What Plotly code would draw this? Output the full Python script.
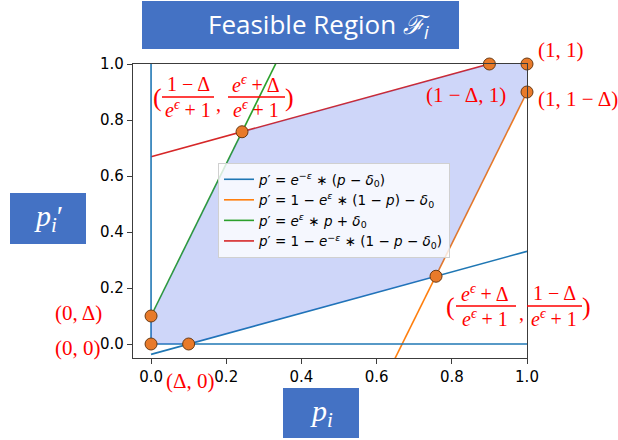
import plotly.graph_objects as go

# ---- data ----
blue_x = [0.0, 1.0]
blue_y = [-0.037, 0.331]
orange_x = [0.631, 1.0]
orange_y = [-0.10, 0.90]
green_x = [0.0, 0.35]
green_y = [0.10, 1.051]
red_x = [0.0, 1.0]
red_y = [0.669, 1.037]
bound_v_x = [0.0, 0.0]
bound_v_y = [0.0, 1.0]
bound_h_x = [0.0, 1.0]
bound_h_y = [0.0, 0.0]
region_x = [0.0, 0.0, 0.242, 0.9, 1.0, 1.0, 0.758, 0.1, 0.0]
region_y = [0.0, 0.1, 0.758, 1.0, 1.0, 0.9, 0.242, 0.0, 0.0]
pts_x = [0.0, 0.0, 0.1, 0.242, 0.9, 1.0, 1.0, 0.758]
pts_y = [0.0, 0.1, 0.0, 0.758, 1.0, 1.0, 0.9, 0.242]
tick_vals = [0.0, 0.2, 0.4, 0.6, 0.8, 1.0]
tick_text = ["0.0", "0.2", "0.4", "0.6", "0.8", "1.0"]

legend_names = [
    "<i>p</i>′ = <i>e</i><sup>−<i>ε</i></sup> ∗ (<i>p</i> − <i>δ</i><sub>0</sub>)",
    "<i>p</i>′ = 1 − <i>e</i><sup><i>ε</i></sup> ∗ (1 − <i>p</i>) − <i>δ</i><sub>0</sub>",
    "<i>p</i>′ = <i>e</i><sup><i>ε</i></sup> ∗ <i>p</i> + <i>δ</i><sub>0</sub>",
    "<i>p</i>′ = 1 − <i>e</i><sup>−<i>ε</i></sup> ∗ (1 − <i>p</i> − <i>δ</i><sub>0</sub>)",
]

W, H = 618, 440
L, R, T, B = 133, 527, 64, 358

def px(x):
    return (x - L) / (R - L)

def py(y):
    return (B - y) / (B - T)

fig = go.Figure()
C = ["#1f77b4", "#ff7f0e", "#2ca02c", "#d62728"]
for xs, ys, c, n in [(blue_x, blue_y, C[0], legend_names[0]),
                     (orange_x, orange_y, C[1], legend_names[1]),
                     (green_x, green_y, C[2], legend_names[2]),
                     (red_x, red_y, C[3], legend_names[3])]:
    fig.add_trace(go.Scatter(x=xs, y=ys, mode="lines", name=n,
                             line=dict(color=c, width=1.6)))
for xs, ys in [(bound_v_x, bound_v_y), (bound_h_x, bound_h_y)]:
    fig.add_trace(go.Scatter(x=xs, y=ys, mode="lines", showlegend=False,
                             line=dict(color=C[0], width=1.6)))
fig.add_trace(go.Scatter(x=region_x, y=region_y, mode="lines", fill="toself",
                         fillcolor="rgba(60,90,230,0.25)", line=dict(width=0),
                         showlegend=False, hoverinfo="skip"))
fig.add_trace(go.Scatter(x=pts_x, y=pts_y, mode="markers", showlegend=False,
                         marker=dict(size=12, color="#e87a2a",
                                     line=dict(color="#6b3a12", width=1)),
                         cliponaxis=False))

RED = "#ff0000"
SERIF = "Liberation Serif"
ann = []
shapes = []

def text(x, y, s, size=20, color=RED, fam=SERIF, xanchor="center"):
    ann.append(dict(x=px(x), y=py(y), xref="paper", yref="paper", text=s,
                    showarrow=False, xanchor=xanchor, yanchor="middle",
                    font=dict(size=size, color=color, family=fam)))

def frac(cx, x0, x1, ly, num, den):
    text(cx, ly - 13, num)
    text(cx, ly + 12, den)
    shapes.append(dict(type="line", xref="paper", yref="paper",
                       x0=px(x0), x1=px(x1), y0=py(ly), y1=py(ly),
                       line=dict(color=RED, width=1.5)))

EP1 = "<i>e</i><sup><i>ϵ</i></sup> + 1"
EPD = "<i>e</i><sup><i>ϵ</i></sup> + Δ"
OMD = "1 − Δ"

# top-left fraction label
text(157, 97, "(", size=26)
frac(188, 162, 214, 97, OMD, EP1)
text(218, 104, ",", size=20)
frac(256, 228, 285, 97, EPD, EP1)
text(289, 97, ")", size=26)

# bottom-right fraction label
text(450, 306, "(", size=26)
frac(485, 456, 516, 306, EPD, EP1)
text(521, 313, ",", size=20)
frac(554, 527, 582, 306, OMD, EP1)
text(586, 306, ")", size=26)

text(561, 50, "(1, 1)", size=21)
text(466, 95, "(1 − Δ, 1)", size=21)
text(578, 99, "(1, 1 − Δ)", size=21)
text(78, 313, "(0, Δ)", size=21)
text(78, 348, "(0, 0)", size=21)
text(190, 381, "(Δ, 0)", size=21)

BOX = "#4472C4"
for (x0, y0, x1, y1) in [(142, 1, 459, 49), (10, 193, 86, 244), (283, 388, 359, 438)]:
    shapes.append(dict(type="rect", xref="paper", yref="paper",
                       x0=px(x0), x1=px(x1), y0=py(y1), y1=py(y0),
                       fillcolor=BOX, line=dict(width=0), layer="below"))

text(319, 25, "Feasible Region <i>ℱ</i><sub><i>i</i></sub>", size=26,
     color="white", fam="Open Sans")
text(48, 218, "<i>p</i><sub><i>i</i></sub>′", size=30, color="white", fam=SERIF)
text(321, 413, "<i>p</i><sub><i>i</i></sub>", size=30, color="white", fam=SERIF)

axis_common = dict(showgrid=False, zeroline=False, showline=True, mirror=True,
                   linecolor="#3c3c3c", linewidth=1.2, ticks="outside",
                   ticklen=5, tickcolor="#3c3c3c", tickvals=tick_vals,
                   ticktext=tick_text,
                   tickfont=dict(family="DejaVu Sans", size=15, color="black"))

fig.update_layout(
    width=W, height=H,
    margin=dict(l=L, r=W - R, t=T, b=H - B),
    paper_bgcolor="white", plot_bgcolor="white",
    xaxis=dict(range=[-0.048, 1.0], **axis_common),
    yaxis=dict(range=[-0.05, 1.0], **axis_common),
    legend=dict(x=px(218), y=py(163), xanchor="left", yanchor="top",
                bgcolor="rgba(255,255,255,0.8)", bordercolor="#d0d0d0",
                borderwidth=1, itemwidth=30,
                font=dict(family="DejaVu Sans", size=13.5, color="black"),
                tracegroupgap=0),
    annotations=ann, shapes=shapes,
    showlegend=True,
)

fig.write_html("out.html", config={"displayModeBar": False},
               post_script="document.body.style.margin='0';document.body.style.overflow='hidden';")
